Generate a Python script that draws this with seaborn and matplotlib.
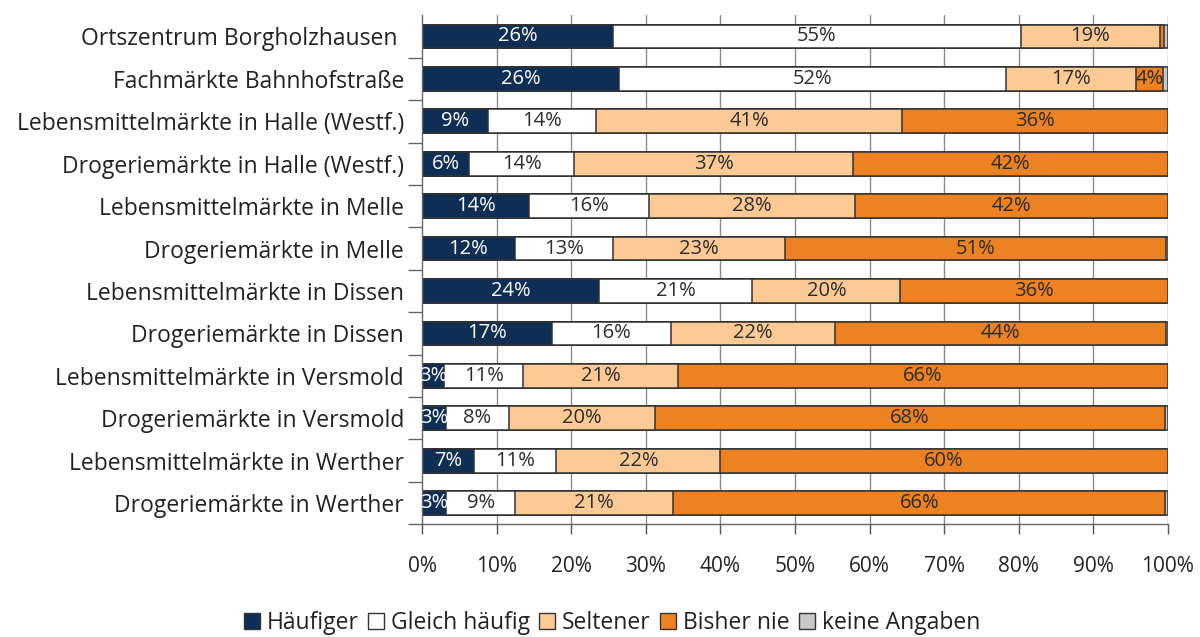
import numpy as np
import pandas as pd
import matplotlib
matplotlib.use("Agg")
import matplotlib.pyplot as plt
import seaborn as sns
from matplotlib.patches import Patch

# --- data (shares in %) ---
orte = [
    "Ortszentrum Borgholzhausen ",
    "Fachmärkte Bahnhofstraße",
    "Lebensmittelmärkte in Halle (Westf.)",
    "Drogeriemärkte in Halle (Westf.)",
    "Lebensmittelmärkte in Melle",
    "Drogeriemärkte in Melle",
    "Lebensmittelmärkte in Dissen",
    "Drogeriemärkte in Dissen",
    "Lebensmittelmärkte in Versmold",
    "Drogeriemärkte in Versmold",
    "Lebensmittelmärkte in Werther",
    "Drogeriemärkte in Werther",
]
haeufiger = [25.6, 26.4, 8.9, 6.3, 14.4, 12.4, 23.7, 17.4, 3.0, 3.2, 6.9, 3.2]
gleich = [54.7, 51.9, 14.4, 14.1, 16.0, 13.2, 20.6, 16.0, 10.6, 8.4, 11.1, 9.3]
seltener = [18.6, 17.4, 41.1, 37.4, 27.7, 23.1, 19.8, 22.0, 20.7, 19.6, 22.0, 21.2]
bisher_nie = [0.6, 3.6, 35.6, 42.2, 41.9, 51.0, 35.9, 44.3, 65.7, 68.4, 60.0, 65.9]
keine_angaben = [0.5, 0.7, 0.0, 0.0, 0.0, 0.3, 0.0, 0.3, 0.0, 0.4, 0.0, 0.4]

antworten = ["Häufiger", "Gleich häufig", "Seltener", "Bisher nie", "keine Angaben"]
farben = ["#0f2e54", "#ffffff", "#fdca96", "#ee8122", "#c8c8c8"]
textfarben = ["white", "#2b2b2b", "#2b2b2b", "#2b2b2b", "#2b2b2b"]

df = pd.DataFrame({"Ort": orte, "Häufiger": haeufiger, "Gleich häufig": gleich,
                   "Seltener": seltener, "Bisher nie": bisher_nie,
                   "keine Angaben": keine_angaben})
cum = df[antworten].cumsum(axis=1)

sns.set_theme(style="white")
plt.rcParams["font.family"] = ["Open Sans", "DejaVu Sans"]

fig = plt.figure(figsize=(12, 6.37), dpi=100)
ax = fig.add_axes([0.3517, 0.177, 0.6216, 0.799])

# vertical grid behind bars
for xv in range(10, 101, 10):
    ax.axvline(xv, color="#8c8c8c", lw=1.0, zorder=0)

# stacked bars: draw cumulative totals from the right-most segment down
for k in range(len(antworten) - 1, -1, -1):
    sns.barplot(x=cum[antworten[k]], y=df["Ort"], orient="h", color=farben[k],
                saturation=1, width=0.56, edgecolor="#333333", linewidth=1.1,
                ax=ax, zorder=2)

# segment labels
for k, a in enumerate(antworten):
    for i, v in enumerate(df[a]):
        if v >= 2:
            left = cum[a].iloc[i] - v
            ax.text(left + v / 2, i, f"{v:.0f}%", ha="center", va="center",
                    fontsize=14.5, color=textfarben[k], zorder=3)

ax.set_xlim(0, 100)
ax.set_ylim(len(orte) - 0.5, -0.5)
ax.set_xticks(range(0, 101, 10))
ax.set_xticklabels([f"{t}%" for t in range(0, 101, 10)], fontsize=15, color="#222222")
ax.set_yticks(range(len(orte)))
ax.set_yticklabels(orte, fontsize=16.5, color="#222222")
ax.set_yticks(np.arange(0.5, len(orte), 1), minor=True)
ax.tick_params(axis="y", which="major", length=0, pad=13)
ax.tick_params(axis="y", which="minor", length=10, width=1, color="#666666", left=True)
ax.tick_params(axis="x", which="major", length=7, width=1, color="#555555",
               bottom=True, pad=16)
ax.set_xlabel("")
ax.set_ylabel("")

for s in ["top", "right"]:
    ax.spines[s].set_visible(False)
for s in ["left", "bottom"]:
    ax.spines[s].set_color("#666666")
    ax.spines[s].set_linewidth(1.0)

handles = [Patch(facecolor=f, edgecolor="#333333", linewidth=1.0) for f in farben]
fig.legend(handles, antworten, loc="lower center", bbox_to_anchor=(0.51, -0.02),
           ncol=5, frameon=False, fontsize=16.5, handlelength=0.7, handleheight=0.7,
           handletextpad=0.3, columnspacing=0.4, labelcolor="#222222",
           borderpad=0.15)

fig.savefig("out.png", dpi=100)
